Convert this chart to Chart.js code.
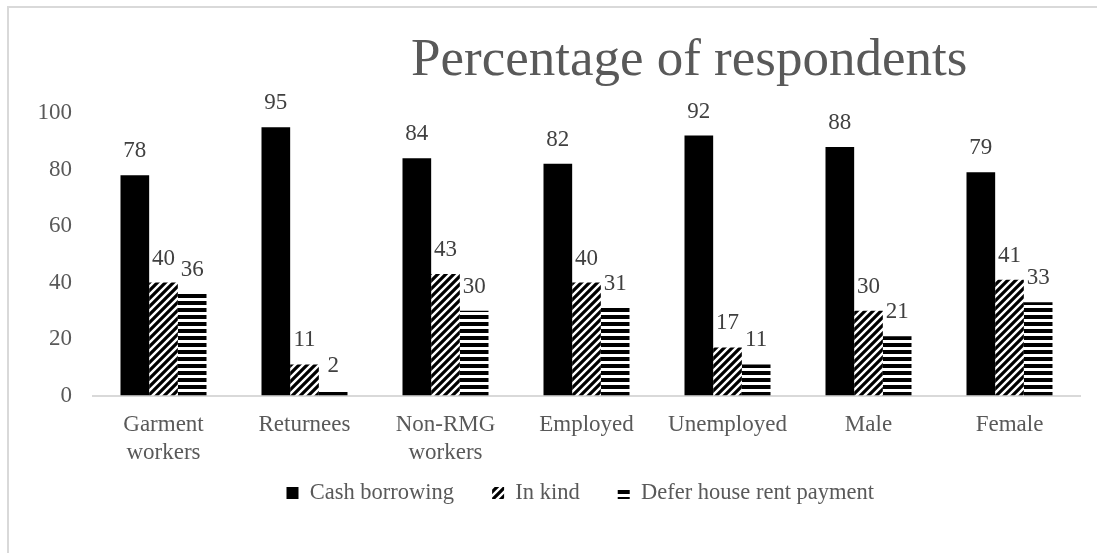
<!DOCTYPE html>
<html>
<head>
<meta charset="utf-8">
<script src="https://cdn.jsdelivr.net/npm/chart.js@4.4.1/dist/chart.umd.min.js"></script>
<style>
  html, body { margin: 0; padding: 0; background: #fff; overflow: hidden; }
  #frame { position: absolute; left: 7px; top: 6px; width: 1100px; height: 560px; border: 2px solid #d9d9d9; box-sizing: border-box; }
  #wrap { position: absolute; left: 0; top: 0; width: 1097px; height: 553px; }
</style>
</head>
<body>
<div id="frame"></div>
<div id="wrap"><canvas id="c" width="1097" height="553"></canvas></div>
<script>
const categories = [["Garment", "workers"], "Returnees", ["Non-RMG", "workers"], "Employed", "Unemployed", "Male", "Female"];
const cashBorrowing = [78, 95, 84, 82, 92, 88, 79];
const inKind = [40, 11, 43, 40, 17, 30, 41];
const deferRent = [36, 2, 30, 31, 11, 21, 33];
const yTicks = [0, 20, 40, 60, 80, 100];
const seriesNames = ["Cash borrowing", "In kind", "Defer house rent payment"];
const titleText = "Percentage of respondents";

function diagPattern() {
  const s = 8;
  const cv = document.createElement('canvas');
  cv.width = s; cv.height = s;
  const g = cv.getContext('2d');
  g.fillStyle = '#fff'; g.fillRect(0, 0, s, s);
  g.strokeStyle = '#000'; g.lineWidth = 3.2; g.lineCap = 'square';
  g.beginPath();
  g.moveTo(-2, s + 2); g.lineTo(s + 2, -2);
  g.moveTo(-2, 2); g.lineTo(2, -2);
  g.moveTo(s - 2, s + 2); g.lineTo(s + 2, s - 2);
  g.stroke();
  return g.createPattern(cv, 'repeat');
}
function horizPattern() {
  const cv = document.createElement('canvas');
  cv.width = 4; cv.height = 7;
  const g = cv.getContext('2d');
  g.fillStyle = '#fff'; g.fillRect(0, 0, 4, 7);
  g.fillStyle = '#000'; g.fillRect(0, 0, 4, 4);
  return g.createPattern(cv, 'repeat');
}

const FONT = "'Liberation Serif', 'Times New Roman', serif";

const valueLabels = {
  id: 'valueLabels',
  afterDatasetsDraw(chart) {
    const ctx = chart.ctx;
    ctx.save();
    ctx.font = "23px " + FONT;
    ctx.fillStyle = '#404040';
    ctx.textAlign = 'center';
    ctx.textBaseline = 'alphabetic';
    chart.data.datasets.forEach((ds, i) => {
      const meta = chart.getDatasetMeta(i);
      meta.data.forEach((bar, j) => {
        ctx.fillText(String(ds.data[j]), bar.x, bar.y - 18);
      });
    });
    ctx.restore();
  }
};

const titlePlugin = {
  id: 'customTitle',
  afterDraw(chart) {
    const ctx = chart.ctx;
    ctx.save();
    ctx.font = "53px " + FONT;
    ctx.fillStyle = '#595959';
    ctx.textAlign = 'left';
    ctx.textBaseline = 'alphabetic';
    ctx.fillText(titleText, 411, 75);
    ctx.restore();
  }
};

// move the legend row closer to the axis labels (Excel-style placement)
const legendPlace = {
  id: 'legendPlace',
  afterLayout(chart) {
    const lg = chart.legend;
    if (!lg) return;
    const lift = 39, shift = 32;
    lg.top -= lift; lg.bottom -= lift;
    lg.left += shift; lg.right += shift;
  }
};

new Chart(document.getElementById('c'), {
  type: 'bar',
  data: {
    labels: categories,
    datasets: [
      { label: seriesNames[0], data: cashBorrowing, backgroundColor: '#000' },
      { label: seriesNames[1], data: inKind, backgroundColor: diagPattern() },
      { label: seriesNames[2], data: deferRent, backgroundColor: horizPattern() }
    ]
  },
  options: {
    responsive: false,
    animation: false,
    devicePixelRatio: 1,
    layout: { padding: { left: 16.5, right: 17, top: 113, bottom: -0.2 } },
    datasets: { bar: { categoryPercentage: 0.61, barPercentage: 1.0, borderWidth: 0 } },
    scales: {
      x: {
        grid: { display: false, drawTicks: false },
        border: { display: true, color: '#d9d9d9', width: 2 },
        ticks: { color: '#595959', font: { family: FONT, size: 23, lineHeight: 1.2 }, padding: 16, maxRotation: 0, autoSkip: false }
      },
      y: {
        min: 0, max: 100,
        afterBuildTicks(axis) { axis.ticks = yTicks.map(v => ({ value: v })); },
        grid: { display: false, drawTicks: false },
        border: { display: false },
        ticks: { color: '#595959', font: { family: FONT, size: 23 }, padding: 21 }
      }
    },
    plugins: {
      legend: {
        position: 'bottom',
        labels: {
          color: '#595959',
          font: { family: FONT, size: 22.5 },
          boxWidth: 12, boxHeight: 12,
          padding: 38
        }
      },
      title: { display: false },
      tooltip: { enabled: false }
    }
  },
  plugins: [valueLabels, titlePlugin, legendPlace]
});
</script>
</body>
</html>
